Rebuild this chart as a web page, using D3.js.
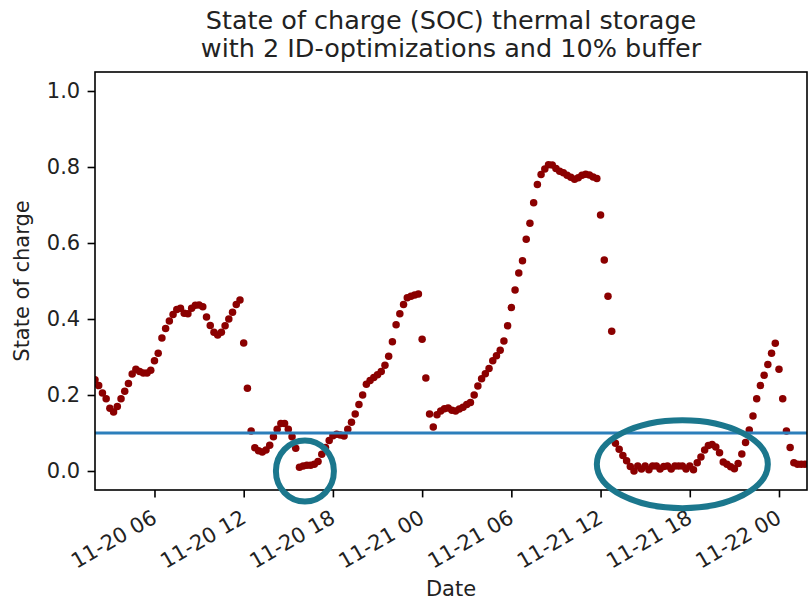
<!DOCTYPE html>
<html>
<head>
<meta charset="utf-8">
<script src="https://cdn.jsdelivr.net/npm/d3@7"></script>
<style>
  html, body { margin: 0; padding: 0; background: #ffffff; }
  svg { display: block; font-family: "DejaVu Sans", sans-serif; }
</style>
</head>
<body>
<svg id="chart" width="808" height="605"></svg>
<script>
// ---- data ----
const seriesStart = "2020-11-20T02:00:00";   // first sample
const stepMinutes = 15;                       // sampling step of the SOC series
const socValues = [
  0.24, 0.225, 0.205, 0.19, 0.165, 0.155, 0.17, 0.19, 0.21, 0.23,
  0.255, 0.268, 0.262, 0.258, 0.258, 0.265, 0.29, 0.31, 0.35, 0.375,
  0.395, 0.412, 0.425, 0.428, 0.415, 0.414, 0.428, 0.436, 0.437, 0.432,
  0.405, 0.383, 0.365, 0.358, 0.365, 0.382, 0.4, 0.418, 0.438, 0.45,
  0.337, 0.218, 0.105, 0.061, 0.053, 0.05, 0.055, 0.068, 0.09, 0.11,
  0.125, 0.125, 0.11, 0.09, 0.06, 0.01, 0.013, 0.015, 0.015, 0.018,
  0.025, 0.044, 0.062, 0.08, 0.093, 0.097, 0.095, 0.092, 0.11, 0.128,
  0.15, 0.175, 0.2, 0.228, 0.238, 0.246, 0.253, 0.262, 0.278, 0.302,
  0.34, 0.385, 0.414, 0.438, 0.456, 0.46, 0.463, 0.466, 0.347, 0.245,
  0.15, 0.116, 0.148, 0.158, 0.164, 0.166, 0.16, 0.158, 0.163, 0.168,
  0.175, 0.18, 0.2, 0.224, 0.243, 0.256, 0.27, 0.29, 0.303, 0.318,
  0.342, 0.382, 0.43, 0.476, 0.521, 0.553, 0.61, 0.652, 0.706, 0.754,
  0.78, 0.795, 0.806, 0.805, 0.796, 0.789, 0.785, 0.778, 0.773, 0.768,
  0.772, 0.778, 0.781, 0.779, 0.774, 0.77, 0.674, 0.555, 0.46, 0.368,
  0.073, 0.057, 0.041, 0.027, 0.012, 0.0, 0.013, 0.005, 0.013, 0.003,
  0.013, 0.013, 0.005, 0.012, 0.013, 0.005, 0.013, 0.013, 0.013, 0.005,
  0.013, 0.003, 0.022, 0.037, 0.055, 0.067, 0.07, 0.063, 0.048, 0.024,
  0.018, 0.011, 0.006, 0.02, 0.045, 0.075, 0.108, 0.145, 0.19, 0.225,
  0.252, 0.28, 0.31, 0.336, 0.268, 0.19, 0.105, 0.062, 0.022, 0.018,
  0.018, 0.018
];
const bufferLevel = 0.1;
const xDomain = ["2020-11-20T02:00:00", "2020-11-22T01:53:00"];
const yDomain = [-0.05, 1.05];
const xTickTimes = ["2020-11-20T06:00:00", "2020-11-20T12:00:00", "2020-11-20T18:00:00",
  "2020-11-21T00:00:00", "2020-11-21T06:00:00", "2020-11-21T12:00:00",
  "2020-11-21T18:00:00", "2020-11-22T00:00:00"];
const xTickLabels = ["11-20 06", "11-20 12", "11-20 18", "11-21 00", "11-21 06", "11-21 12", "11-21 18", "11-22 00"];
const yTickValues = [0.0, 0.2, 0.4, 0.6, 0.8, 1.0];
const yTickLabels = ["0.0", "0.2", "0.4", "0.6", "0.8", "1.0"];
// highlight marks (centre in data coordinates)
const highlightTimes = ["2020-11-20T16:07:00", "2020-11-21T17:30:00"];
const highlightValues = [0.0, 0.018];
const titleLines = ["State of charge (SOC) thermal storage", "with 2 ID-optimizations and 10% buffer"];
const xLabel = "Date";
const yLabel = "State of charge";

// ---- layout ----
const L = 95, R = 807, T = 72, B = 490;
const parse = d3.isoParse;
const t0 = parse(seriesStart);
const data = socValues.map((v, i) => ({ t: d3.timeMinute.offset(t0, i * stepMinutes), v }));

const x = d3.scaleTime().domain(xDomain.map(parse)).range([L, R]);
const y = d3.scaleLinear().domain(yDomain).range([B, T]);

const svg = d3.select("#chart");
svg.append("rect").attr("width", 808).attr("height", 605).attr("fill", "#fff");

svg.append("defs").append("clipPath").attr("id", "plotclip")
  .append("rect").attr("x", L).attr("y", T).attr("width", R - L).attr("height", B - T);

const plot = svg.append("g").attr("clip-path", "url(#plotclip)");

// scatter points
plot.selectAll("circle.pt").data(data).enter().append("circle")
  .attr("class", "pt")
  .attr("cx", d => x(d.t)).attr("cy", d => y(d.v))
  .attr("r", 3.75).attr("fill", "#8b0000");

// buffer line
plot.append("line")
  .attr("x1", L).attr("x2", R)
  .attr("y1", y(bufferLevel)).attr("y2", y(bufferLevel))
  .attr("stroke", "#2c7fbb").attr("stroke-width", 3);

// axes
const tickLen = 7.4, tickPad = 7.4, tickFont = 21;
const xAxis = d3.axisBottom(x)
  .tickValues(xTickTimes.map(parse))
  .tickFormat((d, i) => xTickLabels[i])
  .tickSize(tickLen).tickSizeOuter(0);
const gx = svg.append("g").attr("transform", `translate(0,${B})`).call(xAxis);
gx.select(".domain").remove();
gx.selectAll(".tick line").attr("stroke", "#000").attr("stroke-width", 1.6);
gx.selectAll(".tick text")
  .attr("font-size", tickFont).attr("fill", "#222")
  .attr("font-family", "DejaVu Sans, sans-serif")
  .attr("text-anchor", "end")
  .attr("x", null).attr("y", null).attr("dy", "0.93em")
  .attr("transform", `translate(-6.5,${tickLen + tickPad}) rotate(-30)`);

const yAxis = d3.axisLeft(y)
  .tickValues(yTickValues)
  .tickFormat((d, i) => yTickLabels[i])
  .tickSize(tickLen).tickPadding(tickPad).tickSizeOuter(0);
const gy = svg.append("g").attr("transform", `translate(${L},0)`).call(yAxis);
gy.select(".domain").remove();
gy.selectAll(".tick line").attr("stroke", "#000").attr("stroke-width", 1.6);
gy.selectAll(".tick text")
  .attr("font-size", tickFont).attr("fill", "#222")
  .attr("font-family", "DejaVu Sans, sans-serif");

// frame
svg.append("rect").attr("x", L).attr("y", T).attr("width", R - L).attr("height", B - T)
  .attr("fill", "none").attr("stroke", "#000").attr("stroke-width", 1.6);

// labels
svg.append("text").attr("x", (L + R) / 2).attr("y", 596)
  .attr("text-anchor", "middle").attr("font-size", 21).attr("fill", "#222").text(xLabel);
svg.append("text").attr("transform", `translate(29,${(T + B) / 2}) rotate(-90)`)
  .attr("text-anchor", "middle").attr("font-size", 21).attr("fill", "#222").text(yLabel);

const title = svg.append("text").attr("text-anchor", "middle").attr("font-size", 25.5).attr("fill", "#222");
title.selectAll("tspan").data(titleLines).enter().append("tspan")
  .attr("x", (L + R) / 2).attr("y", (d, i) => 29 + i * 28).text(d => d);

// highlight annotations
const hlSizes = [[29, 30.5], [85.5, 44]];
svg.selectAll("ellipse.hl").data(highlightTimes).enter().append("ellipse")
  .attr("class", "hl")
  .attr("cx", (d) => x(parse(d)))
  .attr("cy", (d, i) => y(highlightValues[i]))
  .attr("rx", (d, i) => hlSizes[i][0]).attr("ry", (d, i) => hlSizes[i][1])
  .attr("fill", "none").attr("stroke", "#1b778d").attr("stroke-width", 6);
</script>
</body>
</html>
